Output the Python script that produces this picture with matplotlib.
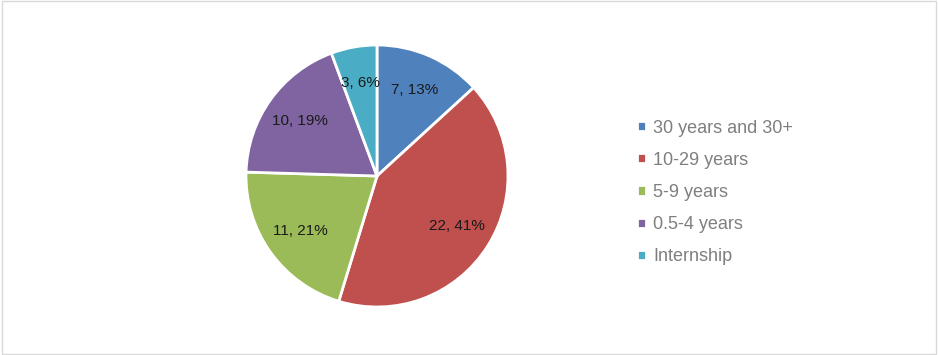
import numpy as np
import matplotlib.pyplot as plt

# data
labels = ['30 years and 30+', '10-29 years', '5-9 years', '0.5-4 years', 'Internship']
counts = [7, 22, 11, 10, 3]
percents = [13, 41, 21, 19, 6]  # as printed on the chart
colors = ['#4F81BD', '#C0504D', '#9BBB59', '#8064A2', '#4BACC6']

plt.rcParams['font.family'] = ['Liberation Sans', 'DejaVu Sans']

fig = plt.figure(figsize=(9.38, 3.55), dpi=100)
# pie axes: centre ~ (377, 176) px, radius ~131 px
ax = fig.add_axes([(377 - 131) / 938, 48 / 355, 262 / 938, 262 / 355])

wedges, texts = ax.pie(
    counts, colors=colors, startangle=90, counterclock=False, radius=1.0,
    wedgeprops=dict(edgecolor='white', linewidth=2))

# data labels "count, percent" inside each slice
for w, c, p in zip(wedges, counts, percents):
    ang = np.deg2rad((w.theta1 + w.theta2) / 2)
    r = 0.72
    ax.text(r * np.cos(ang), r * np.sin(ang), '{}, {}%'.format(c, p),
            ha='center', va='center', fontsize=11, color='#1a1a1a')

ax.set_xlim(-1.0, 1.0)
ax.set_ylim(-1.0, 1.0)
ax.set_aspect('equal')

leg = fig.legend(wedges, labels, loc='center left', bbox_to_anchor=(0.662, 0.458),
                 frameon=False, fontsize=13, labelcolor='#7f7f7f',
                 handlelength=0.5, handleheight=0.5, handletextpad=0.4,
                 labelspacing=0.84)

# light frame around the chart area
fig.patches.append(plt.Rectangle((0.002, 0.003), 0.996, 0.994, transform=fig.transFigure,
                                 fill=False, edgecolor='#d9d9d9', linewidth=1))

fig.savefig('out.png', dpi=100)
